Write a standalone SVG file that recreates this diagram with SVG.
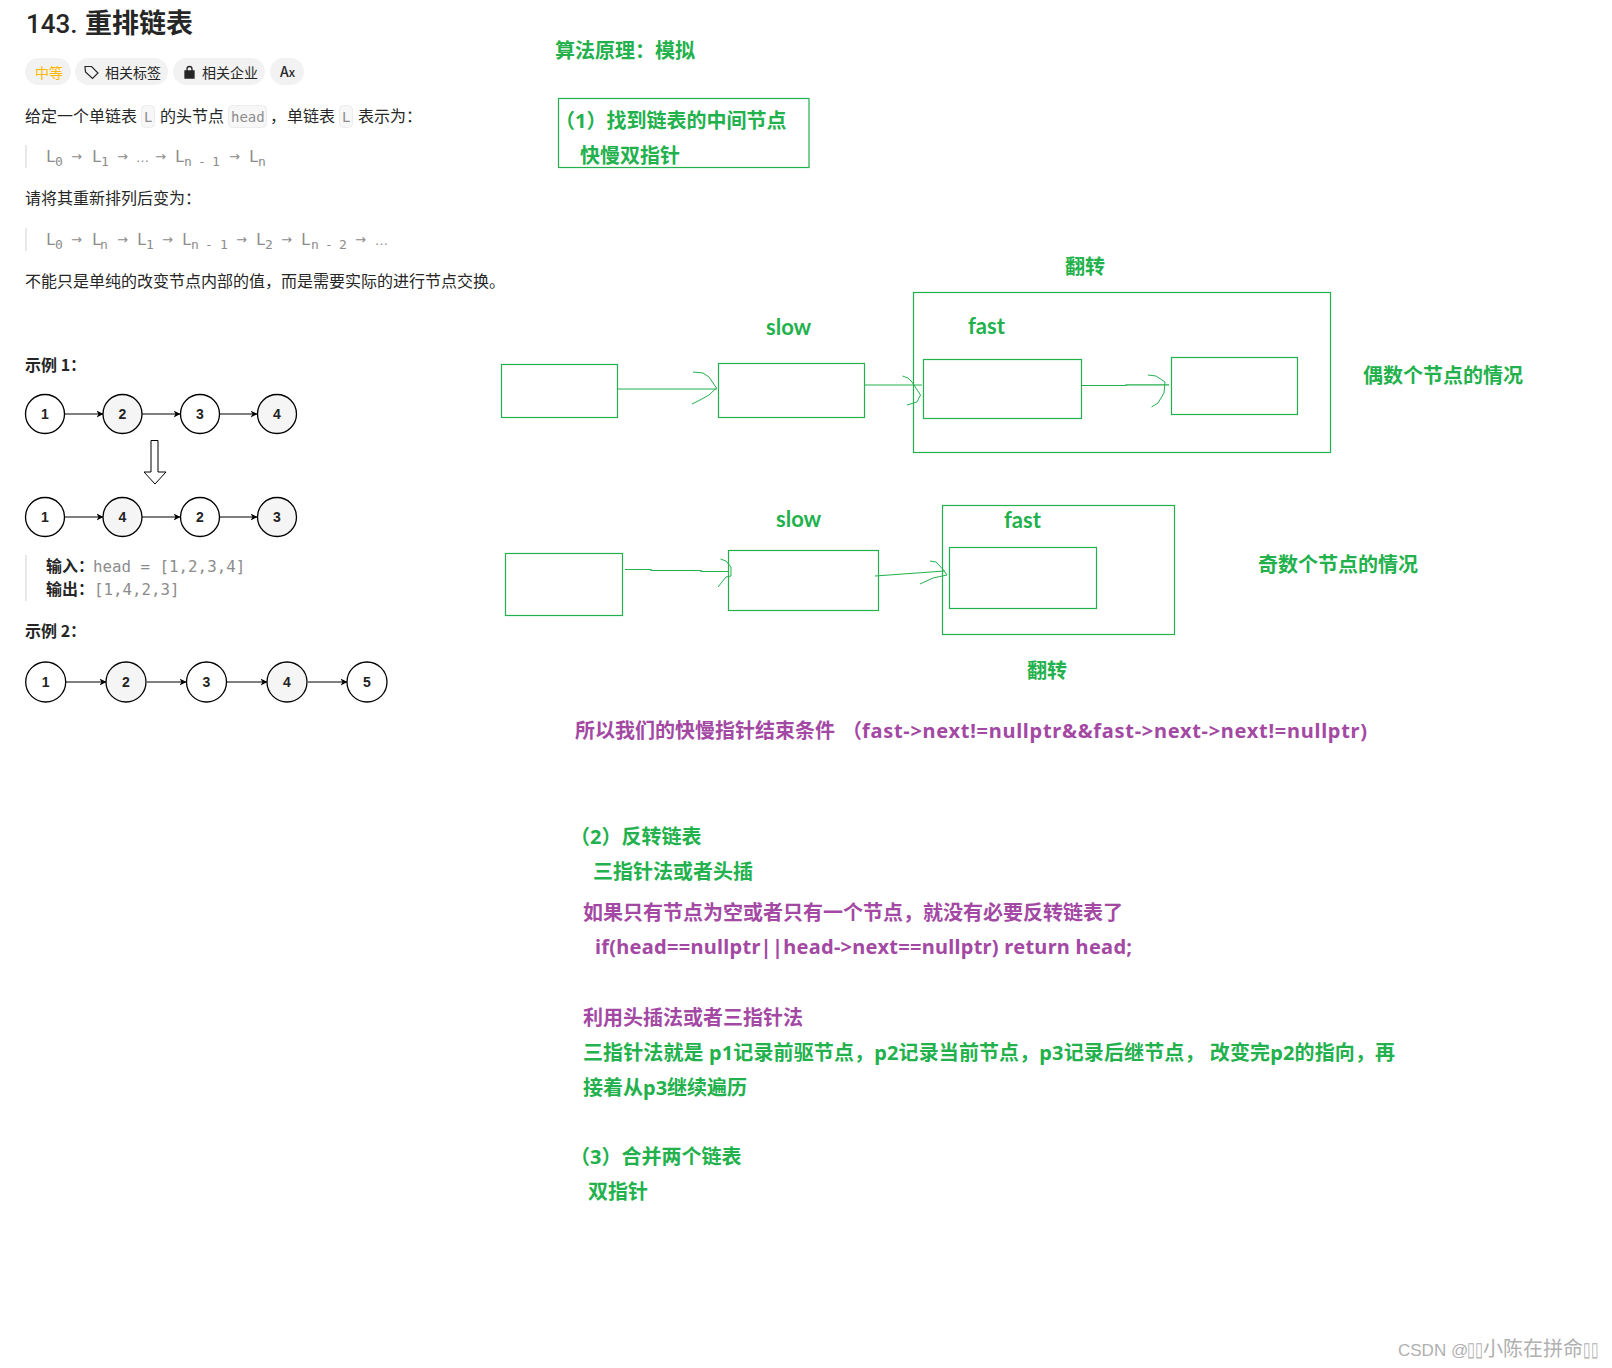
<svg xmlns="http://www.w3.org/2000/svg" width="1612" height="1368" viewBox="0 0 1612 1368">
<style>
text{font-family:"Noto Sans","Noto Sans CJK SC",sans-serif}
.g{fill:#22b14c;font-weight:700;font-size:20px}
.p{fill:#a349a4;font-weight:700;font-size:20px}
.e{font-size:22px;font-family:"Lato",sans-serif}
.b{fill:none;stroke:#22b14c;stroke-width:1.2}
.h{fill:none;stroke:#22b14c;stroke-width:1}
.t{fill:#262626;font-size:16px;font-family:"Noto Sans CJK SC",sans-serif}
.b16{font-weight:700}
.m{fill:#8c8c8c;font-size:16px;font-family:"DejaVu Sans Mono",monospace}
.s{fill:#8c8c8c;font-size:13px;font-family:"DejaVu Sans Mono",monospace}
.a{fill:#8c8c8c;font-size:13px;font-family:"DejaVu Sans",sans-serif}
.pill{fill:#f2f2f2}
.chip{fill:#f7f7f7;stroke:#ececec}
.bar{fill:#e8e8e8}
.tag{font-size:14px;fill:#262626;font-family:"Noto Sans CJK SC",sans-serif}
.c{stroke:#000;stroke-width:1.3}
.w{fill:#fff}.y{fill:#f5f5f5}
.n{font-family:"Liberation Sans",sans-serif;font-weight:700;font-size:14px;fill:#222;text-anchor:middle}
.k{stroke:#000;stroke-width:1.2;fill:none;marker-end:url(#ah)}
.wm{fill:#b0b0b0;font-family:"Liberation Sans","Noto Sans CJK SC",sans-serif}
</style>
<defs><marker id="ah" markerWidth="8" markerHeight="8" refX="6.5" refY="3.5" orient="auto" markerUnits="userSpaceOnUse"><path d="M0 0L7 3.500L0 7L2 3.500Z" fill="#000"/></marker></defs>
<rect width="1612" height="1368" fill="#fff"/>

<g id="problem">
<text x="26" y="33" font-size="26" font-weight="500" fill="#262626" style="font-family:Roboto,'Noto Sans CJK SC',sans-serif">143. <tspan x="85" font-size="27" font-weight="700">重排链表</tspan></text>
<rect class="pill" x="25" y="58" width="46" height="27" rx="13.500"/>
<rect class="pill" x="75" y="58" width="93" height="27" rx="13.500"/>
<rect class="pill" x="173" y="58" width="92" height="27" rx="13.500"/>
<rect class="pill" x="270" y="58" width="34" height="27" rx="13.500"/>
<text class="tag" x="35" y="78" style="fill:#ffb800">中等</text>
<path d="M85 66.500L91.500 66.500L98 73L92.500 78.500L85.500 72Z" fill="none" stroke="#262626" stroke-width="1.200"/>
<text class="tag" x="105" y="78">相关标签</text>
<path d="M185 71h9v7h-9zM187 71v-2a2.500 2.500 0 0 1 5 0v2" fill="none" stroke="#262626" stroke-width="1.300"/>
<rect x="185" y="71" width="9" height="7" fill="#262626"/>
<text class="tag" x="202" y="78">相关企业</text>
<text class="tag" x="280" y="77" font-weight="500">A<tspan font-size="12">x</tspan></text>

<text class="t" x="25" y="122">给定一个单链表</text>
<rect class="chip" x="141.500" y="105.500" width="13" height="22" rx="4"/>
<text x="144" y="122" class="m" style="font-size:14px">L</text>
<text class="t" x="160" y="122">的头节点</text>
<rect class="chip" x="228.500" y="105.500" width="38" height="22" rx="4"/>
<text x="231" y="122" class="m" style="font-size:14px">head</text>
<text class="t" x="270" y="122">&#xFF0C;</text>
<text class="t" x="287" y="122">单链表</text>
<rect class="chip" x="339.500" y="105.500" width="13" height="22" rx="4"/>
<text x="342" y="122" class="m" style="font-size:14px">L</text>
<text class="t" x="358" y="122">表示为&#xFF1A;</text>

<rect class="bar" x="25" y="145" width="2" height="23"/>
<g>
<text class="m" x="46" y="162">L</text><text class="s" x="55" y="166">0</text>
<text class="a" x="71" y="161">→</text>
<text class="m" x="92" y="162">L</text><text class="s" x="101" y="166">1</text>
<text class="a" x="117" y="161">→</text>
<text class="a" x="136" y="162">…</text>
<text class="a" x="155" y="161">→</text>
<text class="m" x="175" y="162">L</text><text class="s" x="184" y="166">n</text><text class="s" x="198" y="166">-</text><text class="s" x="212" y="166">1</text>
<text class="a" x="229" y="161">→</text>
<text class="m" x="249" y="162">L</text><text class="s" x="258" y="166">n</text>
</g>

<text class="t" x="25" y="204">请将其重新排列后变为&#xFF1A;</text>

<rect class="bar" x="25" y="228" width="2" height="23"/>
<g>
<text class="m" x="46" y="245">L</text><text class="s" x="55" y="249">0</text>
<text class="a" x="71" y="244">→</text>
<text class="m" x="92" y="245">L</text><text class="s" x="100" y="249">n</text>
<text class="a" x="117" y="244">→</text>
<text class="m" x="137" y="245">L</text><text class="s" x="146" y="249">1</text>
<text class="a" x="162" y="244">→</text>
<text class="m" x="182" y="245">L</text><text class="s" x="191" y="249">n</text><text class="s" x="205" y="249">-</text><text class="s" x="220" y="249">1</text>
<text class="a" x="236" y="244">→</text>
<text class="m" x="256" y="245">L</text><text class="s" x="265" y="249">2</text>
<text class="a" x="281" y="244">→</text>
<text class="m" x="301" y="245">L</text><text class="s" x="311" y="249">n</text><text class="s" x="325" y="249">-</text><text class="s" x="339" y="249">2</text>
<text class="a" x="355" y="244">→</text>
<text class="a" x="375" y="245">…</text>
</g>

<text class="t" x="25" y="287">不能只是单纯的改变节点内部的值&#xFF0C;而是需要实际的进行节点交换。</text>
<text class="t b16" x="25" y="371">示例 1&#xFF1A;</text>
<text class="t b16" x="46" y="572">输入&#xFF1A;</text>
<text class="m" x="93" y="572" style="font-size:15.800px">head = [1,2,3,4]</text>
<text class="t b16" x="46" y="595">输出&#xFF1A;</text>
<text class="m" x="94" y="595" style="font-size:15.800px">[1,4,2,3]</text>
<rect class="bar" x="25" y="555" width="2" height="46"/>
<text class="t b16" x="25" y="637">示例 2&#xFF1A;</text>
</g>

<g id="example-connectors">
<path class="k" d="M65 414H103"/><path class="k" d="M142 414H180"/><path class="k" d="M220 414H257"/>
<path class="k" d="M65 517H103"/><path class="k" d="M142 517H180"/><path class="k" d="M220 517H257"/>
<path class="k" d="M66 682H106"/><path class="k" d="M147 682H186"/><path class="k" d="M227 682H267"/><path class="k" d="M308 682H347"/>
<path d="M151 440.500H158V472H166L155 484L144 472H151Z" fill="#fff" stroke="#000" stroke-width="1"/>
</g>

<g id="ex1a-1"><circle class="c w" cx="45" cy="414" r="19.500"/><text class="n" x="45" y="419">1</text></g>
<g id="ex1a-2"><circle class="c y" cx="122.500" cy="414" r="19.500"/><text class="n" x="122.500" y="419">2</text></g>
<g id="ex1a-3"><circle class="c w" cx="200" cy="414" r="19.500"/><text class="n" x="200" y="419">3</text></g>
<g id="ex1a-4"><circle class="c y" cx="277" cy="414" r="19.500"/><text class="n" x="277" y="419">4</text></g>
<g id="ex1b-1"><circle class="c w" cx="45" cy="517" r="19.500"/><text class="n" x="45" y="522">1</text></g>
<g id="ex1b-4"><circle class="c y" cx="122.500" cy="517" r="19.500"/><text class="n" x="122.500" y="522">4</text></g>
<g id="ex1b-2"><circle class="c w" cx="200" cy="517" r="19.500"/><text class="n" x="200" y="522">2</text></g>
<g id="ex1b-3"><circle class="c y" cx="277" cy="517" r="19.500"/><text class="n" x="277" y="522">3</text></g>
<g id="ex2-1"><circle class="c w" cx="45.700" cy="682" r="20"/><text class="n" x="45.700" y="687">1</text></g>
<g id="ex2-2"><circle class="c y" cx="126" cy="682" r="20"/><text class="n" x="126" y="687">2</text></g>
<g id="ex2-3"><circle class="c w" cx="206.500" cy="682" r="20"/><text class="n" x="206.500" y="687">3</text></g>
<g id="ex2-4"><circle class="c y" cx="287" cy="682" r="20"/><text class="n" x="287" y="687">4</text></g>
<g id="ex2-5"><circle class="c w" cx="367" cy="682" r="20"/><text class="n" x="367" y="687">5</text></g>

<g id="heading"><text class="g" x="555" y="58">算法原理&#xFF1A;模拟</text></g>
<g id="step1"><rect class="b" x="558.500" y="98.500" width="250.500" height="69"/>
<text class="g" x="555" y="128">&#xFF08;1&#xFF09;找到链表的中间节点</text><text class="g" x="580" y="163">快慢双指针</text></g>

<g id="even-a"><rect class="b" x="501.500" y="364.500" width="116" height="53"/></g>
<g id="even-slow"><rect class="b" x="718.500" y="363.500" width="146" height="54"/><text class="g e" x="766" y="335">slow</text></g>
<g id="even-reverse"><rect class="b" x="913.500" y="292.500" width="417" height="160"/><text class="g" x="1065" y="274">翻转</text><text class="g e" x="968" y="334">fast</text></g>
<g id="even-fast"><rect class="b" x="923.500" y="359.500" width="158" height="59"/></g>
<g id="even-d"><rect class="b" x="1171.500" y="357.500" width="126" height="57"/></g>
<g id="even-label"><text class="g" x="1363" y="383">偶数个节点的情况</text></g>

<g id="odd-a"><rect class="b" x="505.500" y="553.500" width="117" height="62"/></g>
<g id="odd-slow"><rect class="b" x="728.500" y="550.500" width="150" height="60"/><text class="g e" x="776" y="527">slow</text></g>
<g id="odd-reverse"><rect class="b" x="942.500" y="505.500" width="232" height="129"/><text class="g e" x="1004" y="528">fast</text><text class="g" x="1027" y="678">翻转</text></g>
<g id="odd-fast"><rect class="b" x="949.500" y="547.500" width="147" height="61"/></g>
<g id="odd-label"><text class="g" x="1258" y="572">奇数个节点的情况</text></g>

<g id="connectors">
<path class="b" d="M617 389H717"/><path class="h" d="M693 372L703 373L709 377L716.500 388L709 395L700 400L692 404"/>
<path class="b" d="M865 385H922"/><path class="h" d="M902.500 376L908 378L912 382L920.500 395L917 402L907 405"/>
<path class="b" d="M1081 385.500H1126V384.800H1169"/><path class="h" d="M1148 375L1156 376L1165 382L1164 393L1158 403L1151.500 407"/>
<path class="b" d="M625 569.500H651V570.500H701V571.500H729"/><path class="h" d="M720.500 559L726 561L731 567V576L726 577L718 587"/>
<path class="b" d="M875 576L944.500 571"/><path class="h" d="M930 561L936 562L943.500 570L947 575L933 578L920 584"/>
</g>

<g id="notes">
<text class="p" x="575" y="738">所以我们的快慢指针结束条件</text>
<text class="p" x="842" y="738">&#xFF08;</text>
<text class="p" x="862" y="738" textLength="505">fast-&gt;next!=nullptr&amp;&amp;fast-&gt;next-&gt;next!=nullptr)</text>
<text class="g" x="570" y="844">&#xFF08;2&#xFF09;反转链表</text>
<text class="g" x="593" y="879">三指针法或者头插</text>
<text class="p" x="583" y="920">如果只有节点为空或者只有一个节点&#xFF0C;就没有必要反转链表了</text>
<text class="p" x="595" y="954" textLength="537">if(head==nullptr||head-&gt;next==nullptr) return head;</text>
<text class="p" x="583" y="1025">利用头插法或者三指针法</text>
<text class="g" x="583" y="1060" textLength="812">三指针法就是 p1记录前驱节点&#xFF0C;p2记录当前节点&#xFF0C;p3记录后继节点&#xFF0C; 改变完p2的指向&#xFF0C;再</text>
<text class="g" x="583" y="1095">接着从p3继续遍历</text>
<text class="g" x="570" y="1164">&#xFF08;3&#xFF09;合并两个链表</text>
<text class="g" x="588" y="1199">双指针</text>
</g>

<g id="watermark">
<text class="wm" x="1398" y="1356" font-size="17">CSDN @</text>
<text class="wm" x="1467" y="1356" font-size="20" textLength="16" lengthAdjust="spacingAndGlyphs">▯▯</text>
<text class="wm" x="1483" y="1356" font-size="20">小陈在拼命</text>
<text class="wm" x="1583" y="1356" font-size="20" textLength="15" lengthAdjust="spacingAndGlyphs">▯▯</text>
</g>
</svg>
